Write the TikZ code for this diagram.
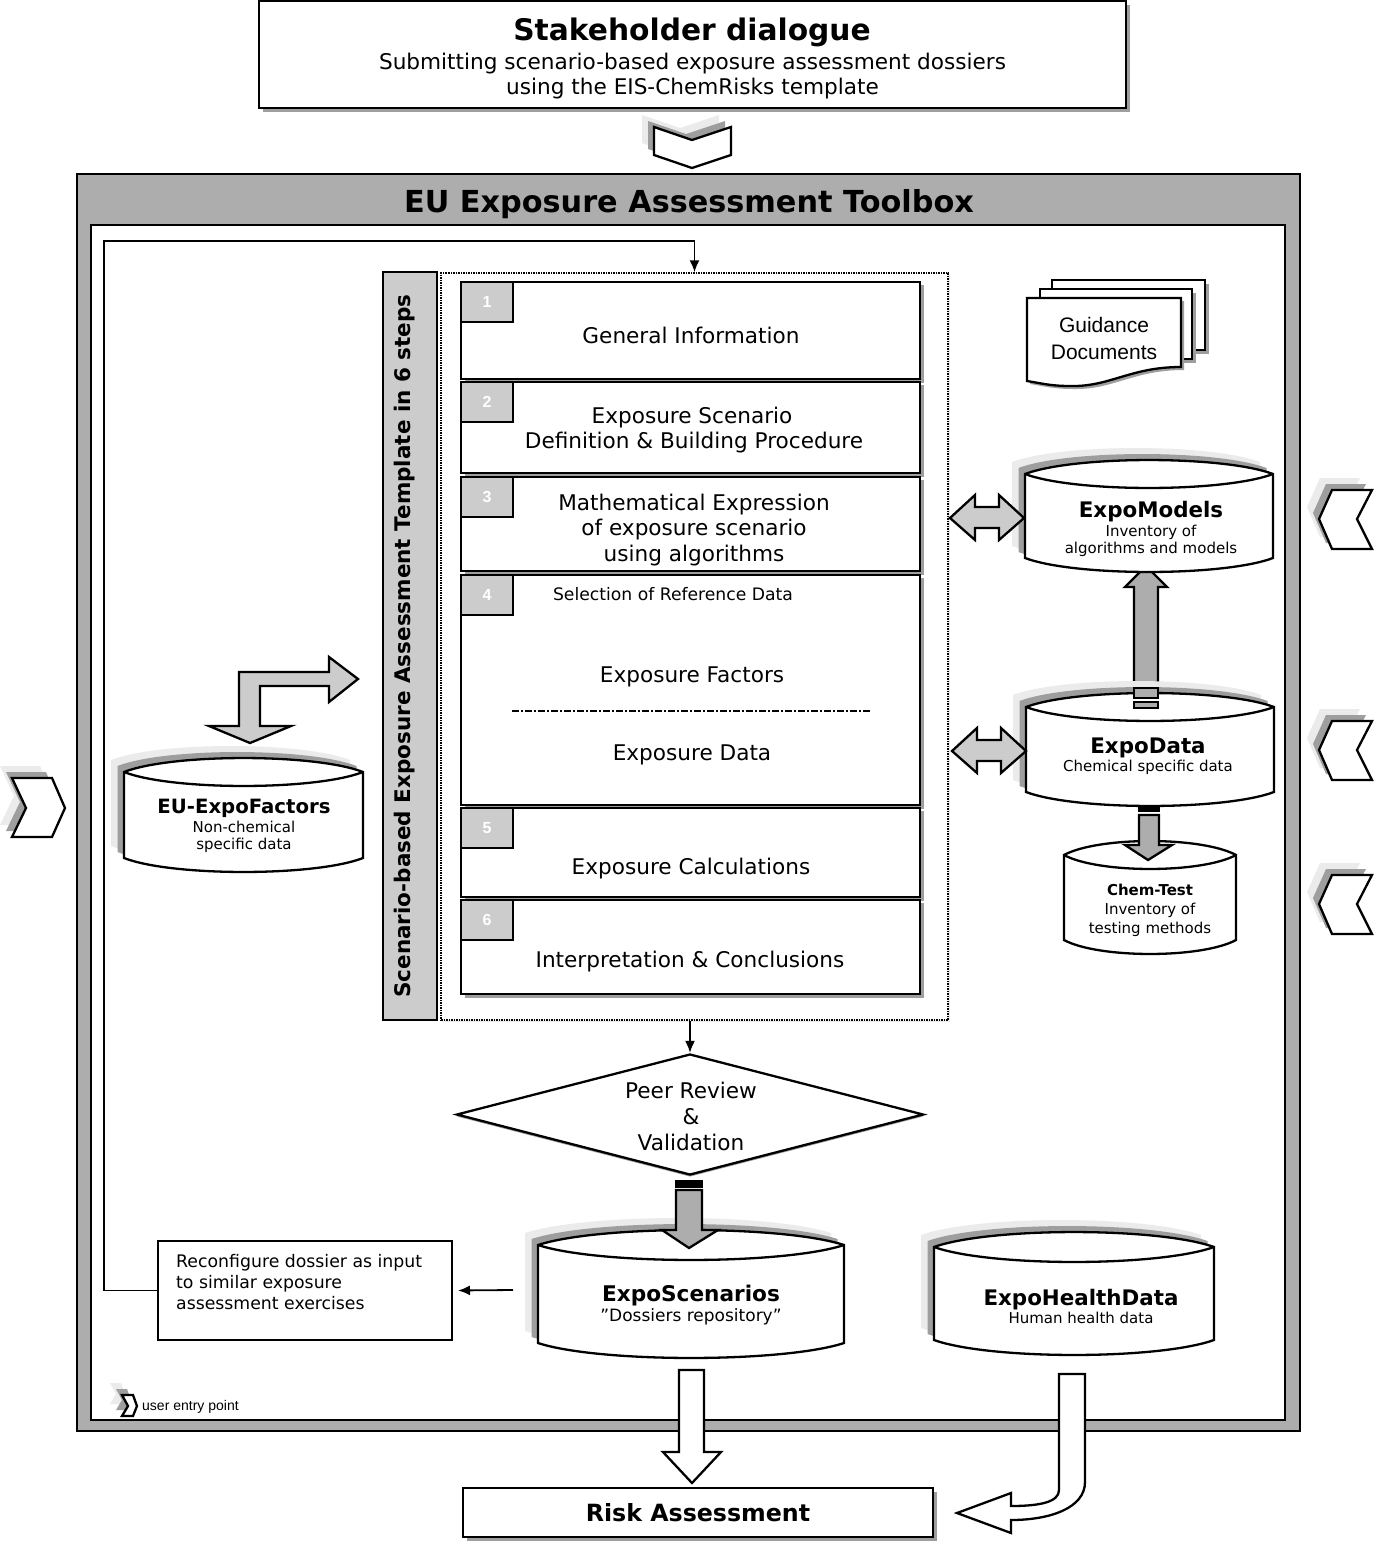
\documentclass[tikz,border=0pt]{standalone}
\usepackage{fontspec}
\setmainfont{DejaVu Sans}
\newfontfamily\arialfont{Liberation Sans}
\usetikzlibrary{arrows.meta,shadows,shapes.geometric}
\definecolor{barGray}{gray}{0.68}
\definecolor{fillGray}{gray}{0.80}
\definecolor{midShade}{gray}{0.62}
\definecolor{lightShade}{gray}{0.92}
\newcommand{\fs}[1]{\pgfmathsetmacro\fsskip{#1*1.2}\fontsize{#1}{\fsskip}\selectfont}
\newcommand{\cylpath}[5]{(#1,#3) .. controls ({#1+.2*(#2-#1)},{#3-1.33*#5}) and ({#2-.2*(#2-#1)},{#3-1.33*#5}) .. (#2,#3) -- (#2,#4) .. controls ({#2-.2*(#2-#1)},{#4+1.33*#5}) and ({#1+.2*(#2-#1)},{#4+1.33*#5}) .. (#1,#4) -- cycle}
\newcommand{\cylbody}[5]{\draw[outl,fill=white] \cylpath{#1}{#2}{#3}{#4}{#5};
\draw[outl] (#1,#3) .. controls ({#1+.2*(#2-#1)},{#3+1.33*#5}) and ({#2-.2*(#2-#1)},{#3+1.33*#5}) .. (#2,#3);}
\newcommand{\cylshade}[5]{\fill[lightShade,shift={(-13,-12)}] \cylpath{#1}{#2}{#3}{#4}{#5};
\fill[midShade,shift={(-6.5,-6)}] \cylpath{#1}{#2}{#3}{#4}{#5};}
\newcommand{\shadepoly}[1]{\fill[lightShade,shift={(-12,-12)}] #1;
\fill[midShade,shift={(-6,-6)}] #1;
\draw[outl,fill=white] #1;}
\newcommand{\dblarrow}[2]{\draw[outl,fill=fillGray,shift={(#1,#2)}] (-37,0) -- (-12,-23) -- (-12,-11) -- (12,-11) -- (12,-23) -- (37,0) -- (12,22) -- (12,10) -- (-12,10) -- (-12,22) -- cycle;}
\tikzset{
outl/.style={draw=black,line width=2.3,line join=miter},
textnode/.style={font=\fs{21.6},align=center,inner sep=0,outer sep=0,yshift=-2pt},
headnode/.style={font=\fs{24}\bfseries,align=center,inner sep=0,outer sep=0},
cyltext/.style={font=\fs{15},align=center,inner sep=0,outer sep=0},
shadowbox/.style={draw=black,line width=2.5,fill=white,inner sep=0,outer sep=0,general shadow={fill=midShade,shadow xshift=4pt,shadow yshift=-4pt}},
stepbox/.style={shadowbox,minimum width=459,general shadow={fill=midShade,shadow xshift=3.5pt,shadow yshift=-3pt}},
steptab/.style={draw=black,line width=2,fill=fillGray,minimum width=52,minimum height=40,inner sep=0,outer sep=0,text=white,font=\arialfont\fs{16}\bfseries},
flowarrow/.style={draw=black,line width=1.8,-{Latex[length=12,width=10]}}
}
\begin{document}
\begin{tikzpicture}[x=1pt,y=-1pt]
\useasboundingbox (0,0) rectangle (1375,1542);
\node[shadowbox,minimum width=867,minimum height=107] (dialogue) at (692.5,54.5) {};
\node[headnode,font=\fs{29.7}\bfseries] (dialogueHead) at (692,32) {Stakeholder dialogue};
\node[textnode] (dialogueText) at (692.5,74) {Submitting scenario-based exposure assessment dossiers\\using the EIS-ChemRisks template};
\shadepoly{(654,127) -- (692,140) -- (731,127) -- (731,155) -- (692,168) -- (654,155) -- cycle}
\node[draw=black,line width=1.5,fill=barGray,minimum width=1223,minimum height=1257,inner sep=0] (toolbox) at (688.5,802.5) {};
\node[draw=black,line width=2,fill=white,minimum width=1194,minimum height=1195,inner sep=0] (toolboxInner) at (688,822.5) {};
\node[headnode,font=\fs{30.3}\bfseries] (toolboxHead) at (689,204) {EU Exposure Assessment Toolbox};
% entry points
\shadepoly{(12,778) -- (52,778) -- (65,808) -- (52,837) -- (12,837) -- (26,808) -- cycle}
\foreach \ypos in {490,721,875}{
\shadepoly{(1372,\ypos) -- (1332,\ypos) -- (1319,\ypos+29) -- (1332,\ypos+59) -- (1372,\ypos+59) -- (1357,\ypos+29) -- cycle}
}
\shadepoly{(122,1395) -- (133,1395) -- (137,1406) -- (133,1416) -- (122,1416) -- (128,1406) -- cycle}
\node[anchor=west,inner sep=0,font=\arialfont\fs{14}] (entryLabel) at (142,1406.5) {user entry point};
% template frame
\node[draw=black,line width=2.5,fill=fillGray,minimum width=54,minimum height=748,inner sep=0] (sidebar) at (410,646) {};
\node[rotate=90,font=\fs{21.5}\bfseries,inner sep=0] (sideLabel) at (405,646) {Scenario-based Exposure Assessment Template in 6 steps};
\node[draw=black,line width=1.5,densely dotted,minimum width=507,minimum height=747,inner sep=0,general shadow={fill=lightShade,shadow xshift=2pt,shadow yshift=-2pt},fill=white] (frame) at (694.5,646.5) {};
\foreach \n/\ytop/\ybot in {1/282/379,2/382/473,3/477/571,4/575/805,5/808/897,6/900/994}{
\node[stepbox,minimum height=(\ybot-\ytop)*1pt] (step\n) at (690.5,{(\ytop+\ybot)/2}) {};
\node[steptab] (tab\n) at (487,\ytop+20) {\n};
}
\node[textnode] (stepTextA) at (691,333) {General Information};
\node[textnode] (stepTextB) at (692,428) {Exposure Scenario\\\hspace*{4pt}Definition \& Building Procedure};
\node[textnode] (stepTextC) at (694,528) {Mathematical Expression\\of exposure scenario\\using algorithms};
\node[textnode,font=\fs{17.2},yshift=2pt] (stepTextD) at (673,594) {Selection of Reference Data};
\node[textnode] (stepTextE) at (692,675) {Exposure Factors};
\draw[line width=1.5,dash pattern=on 7pt off 2pt on 2pt off 2pt] (512,711) -- (870,711);
\node[textnode] (stepTextF) at (692,753) {Exposure Data};
\node[textnode] (stepTextG) at (691,867) {Exposure Calculations};
\node[textnode] (stepTextH) at (690,960) {Interpretation \& Conclusions};
% guidance
\foreach \xa/\ya/\xb/\yb in {1052/280/1205/350,1040/289/1192/359}{
\fill[midShade] (\xa+3,\ya+4) rectangle (\xb+4,\yb+4);
\draw[outl,fill=white] (\xa,\ya) rectangle (\xb,\yb);
}
\fill[midShade,shift={(3,3)}] (1027,298) -- (1181,298) -- (1181,367) .. controls (1130,367) and (1110,387) .. (1070,386) .. controls (1050,386) and (1040,383) .. (1027,381) -- cycle;
\draw[outl,fill=white] (1027,298) -- (1181,298) -- (1181,367) .. controls (1130,367) and (1110,387) .. (1070,386) .. controls (1050,386) and (1040,383) .. (1027,381) -- cycle;
\node[font=\arialfont\fs{21},align=center,inner sep=0] (guidance) at (1104,338.5) {Guidance\\[1pt]Documents};
% vertical block arrows, back
\draw[outl,fill=barGray] (1134,683) -- (1134,587) -- (1125,587) -- (1146,566) -- (1167,587) -- (1158,587) -- (1158,683) -- cycle;
\cylshade{1025}{1273}{474}{558}{14}
\cylbody{1025}{1273}{474}{558}{14}
\node[cyltext] (expoModels) at (1151,529) {{\fs{21.4}\bfseries ExpoModels}\\[1pt]Inventory of\\[-1pt]algorithms and models};
\cylshade{1026}{1274}{707}{792}{14}
\cylbody{1026}{1274}{707}{792}{14}
\node[cyltext] (expoData) at (1148,756) {{\fs{21.4}\bfseries ExpoData}\\Chemical specific data};
\draw[outl,fill=barGray] (1134,688) rectangle (1158,698);
\draw[outl,fill=barGray] (1134,702) rectangle (1158,708);
\cylbody{1064}{1236}{855}{940}{14}
\node[cyltext] (chemTest) at (1150,910) {{\bfseries Chem-Test}\\[1pt]Inventory of\\[1pt]testing methods};
\draw[outl,fill=barGray] (1139,815) -- (1159,815) -- (1159,845) -- (1172,845) -- (1148,860) -- (1125,845) -- (1139,845) -- cycle;
\fill[black] (1138,805) rectangle (1160,812);
\dblarrow{987}{518}
\dblarrow{989}{751}
% factors
\cylshade{124}{363}{772}{858}{14}
\cylbody{124}{363}{772}{858}{14}
\node[cyltext] (euFactors) at (244,826) {{\fs{19.7}\bfseries EU-ExpoFactors}\\[1pt]Non-chemical\\[-1pt]specific data};
\draw[outl,fill=fillGray] (209,726) -- (239,726) -- (239,672) -- (329,672) -- (329,657) -- (358,679) -- (329,702) -- (329,686) -- (260,686) -- (260,726) -- (291,726) -- (250,743) -- cycle;
% review and repositories
\node[diamond,draw=black,line width=2.3,fill=white,aspect=3.86,minimum width=467,minimum height=121,inner sep=0,general shadow={fill=midShade,shadow xshift=0pt,shadow yshift=-2pt}] (peer) at (690,1114.5) {};
\node[textnode] (peerText) at (691,1114.5) {Peer Review\\[.5pt]\&\\[.5pt]Validation};
\draw[flowarrow] (frame.south -| peer.north) -- (peer.north);
\cylshade{538}{844}{1245}{1343}{15}
\cylbody{538}{844}{1245}{1343}{15}
\node[cyltext] (expoScenarios) at (691,1305) {{\fs{21.6}\bfseries ExpoScenarios}\\[2pt]{\fs{17}”Dossiers repository”}};
\cylshade{934}{1214}{1247}{1340}{15}
\cylbody{934}{1214}{1247}{1340}{15}
\node[cyltext] (expoHealth) at (1081,1306) {{\fs{21.4}\bfseries ExpoHealthData}\\Human health data};
\draw[outl,fill=barGray] (676,1190) -- (702,1190) -- (702,1230) -- (718,1230) -- (689,1248) -- (662,1230) -- (676,1230) -- cycle;
\fill[black] (675,1180) rectangle (703,1188);
\node[draw=black,line width=2,fill=white,minimum width=294,minimum height=99,inner sep=0] (reconf) at (305,1290.5) {};
\node[anchor=west,font=\fs{17.3},align=left,inner sep=0] (reconfText) at (176,1282) {Reconfigure dossier as input\\to similar exposure\\assessment exercises};
\coordinate (scenOut) at (513,1290);
\coordinate (loopCorner) at (104,241);
\draw[flowarrow,shorten >=5] (scenOut) -- (reconf.east);
\draw[flowarrow] (reconf.west) -| (loopCorner) -- (frame.north |- loopCorner) -- (frame.north);
% risk assessment
\node[shadowbox,minimum width=470,minimum height=49,font=\fs{23.7}\bfseries] (risk) at (698,1512.5) {Risk Assessment};
\draw[outl,fill=white] (679,1370) -- (704,1370) -- (704,1452) -- (721,1452) -- (692,1483) -- (663,1452) -- (679,1452) -- cycle;
\draw[outl,fill=white] (1059,1374) -- (1085,1374) -- (1085,1482) .. controls (1085,1508) and (1050,1520) .. (1011,1520) -- (1011,1533) -- (957,1513) -- (1011,1493) -- (1011,1506) .. controls (1040,1506) and (1059,1502) .. (1059,1490) -- cycle;
\end{tikzpicture}
\end{document}
